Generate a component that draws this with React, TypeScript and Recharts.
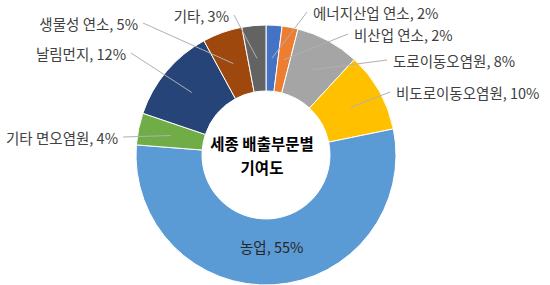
import React from 'react';
import { PieChart, Pie, Cell } from 'recharts';

// Sector names and shares (%)
const sectors = [
  '에너지산업 연소',
  '비산업 연소',
  '도로이동오염원',
  '비도로이동오염원',
  '농업',
  '기타 면오염원',
  '날림먼지',
  '생물성 연소',
  '기타',
];
const shares = [2, 2, 8, 10, 55, 4, 12, 5, 3];

const colors = ['#4472C4', '#ED7D31', '#A5A5A5', '#FFC000', '#5B9BD5', '#70AD47', '#264478', '#9E480E', '#636363'];

// where each label sits (Excel "best fit" placement), null = inside the slice
const labelSpots: ({ x: number; y: number; anchor: 'start' | 'end' } | null)[] = [
  { x: 313, y: 12, anchor: 'start' },
  { x: 354, y: 34, anchor: 'start' },
  { x: 393, y: 60, anchor: 'start' },
  { x: 396, y: 92, anchor: 'start' },
  null,
  { x: 118, y: 137, anchor: 'end' },
  { x: 126, y: 53, anchor: 'end' },
  { x: 138, y: 23, anchor: 'end' },
  { x: 229, y: 15, anchor: 'end' },
];

const data = sectors.map((name, i) => ({ name, value: shares[i] }));

const FONT = '"Noto Sans CJK KR", "Noto Sans", sans-serif';
const RAD = Math.PI / 180;

const renderLabel = (props: any) => {
  const { cx, cy, midAngle, innerRadius, outerRadius, index } = props;
  const text = `${sectors[index]}, ${shares[index]}%`;
  const r = (innerRadius + outerRadius) / 2;
  const sx = cx + r * Math.cos(-midAngle * RAD);
  const sy = cy + r * Math.sin(-midAngle * RAD);
  const spot = labelSpots[index];

  if (!spot) {
    // label inside the slice
    const lr = r - 5;
    return (
      <text
        x={cx + lr * Math.cos(-midAngle * RAD)}
        y={cy + lr * Math.sin(-midAngle * RAD)}
        textAnchor="middle"
        dominantBaseline="central"
        fill="#262626"
        fontSize={14.5}
        fontFamily={FONT}
      >
        {text}
      </text>
    );
  }

  const ex = spot.anchor === 'start' ? spot.x - 6 : spot.x + 5;
  return (
    <g>
      <polyline
        points={`${sx},${sy} ${ex},${spot.y}`}
        fill="none"
        stroke="#B0B0B0"
        strokeWidth={1}
      />
      <text
        x={spot.x}
        y={spot.y}
        textAnchor={spot.anchor}
        dominantBaseline="central"
        fill="#404040"
        fontSize={14.5}
        fontFamily={FONT}
      >
        {text}
      </text>
    </g>
  );
};

const App: React.FC = () => {
  return (
    <div style={{ position: 'absolute', left: 0, top: 0, width: 550, height: 285, background: '#fff' }}>
      <PieChart width={550} height={285}>
        <Pie
          data={data}
          dataKey="value"
          cx={261}
          cy={150}
          innerRadius={64}
          outerRadius={130}
          startAngle={90}
          endAngle={-270}
          stroke="#ffffff"
          strokeWidth={1}
          label={renderLabel}
          labelLine={false}
          isAnimationActive={false}
        >
          {data.map((d, i) => (
            <Cell key={d.name} fill={colors[i]} />
          ))}
        </Pie>
        <text x={262} y={143} textAnchor="middle" dominantBaseline="central" fontSize={15.5} fontWeight="bold" fill="#000" fontFamily={FONT}>
          세종 배출부문별
        </text>
        <text x={262} y={167} textAnchor="middle" dominantBaseline="central" fontSize={15.5} fontWeight="bold" fill="#000" fontFamily={FONT}>
          기여도
        </text>
      </PieChart>
    </div>
  );
};

export default App;
